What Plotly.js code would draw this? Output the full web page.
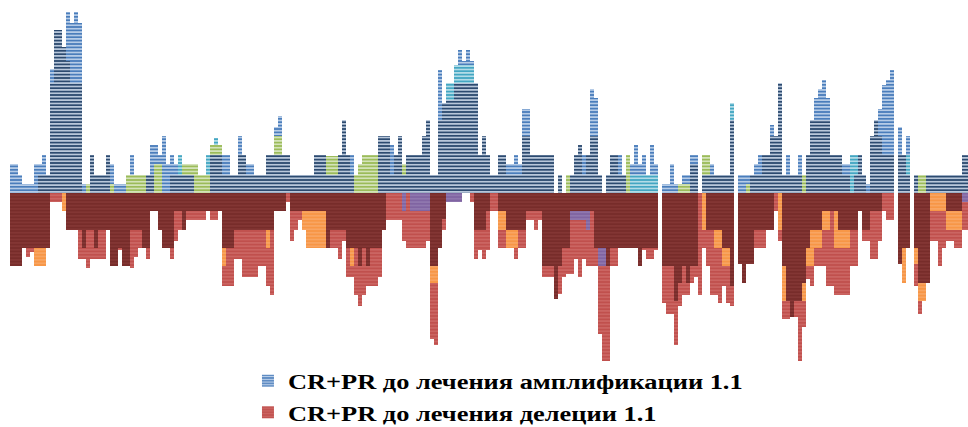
<!DOCTYPE html>
<html>
<head>
<meta charset="utf-8">
<script src="https://cdn.plot.ly/plotly-3.0.1.min.js"></script>
<style>
  html, body { margin: 0; padding: 0; background: #ffffff; }
  #chart { width: 968px; height: 427px; }
  /* wide bold legend lettering, not clipped to the measured legend box */
  #chart .legendtext { transform: scaleX(1.2); transform-box: fill-box; transform-origin: 0 50%; }
  #chart .legend .scrollbox, #chart .legend { clip-path: none !important; }
</style>
</head>
<body>
<div id="chart"></div>
<script>
// Genome-wide copy-number frequency profile, one value per genomic bin (%).
// Amplifications are drawn upward, deletions downward.

const ampNavy = [
  0,0,0,0,0,0,0,10,10,10,
  60,89,89,80,72,60,60,60,0,0,
  21,10,10,10,21,0,0,0,0,0,
  0,0,0,0,10,10,0,0,0,0,
  10,10,10,10,10,10,0,0,0,0,
  21,21,21,10,10,10,10,21,21,10,
  10,10,10,10,21,21,21,21,21,21,
  10,10,10,10,10,10,21,21,21,10,
  10,10,21,40,21,10,0,0,0,0,
  0,0,31,31,31,10,21,31,10,21,
  21,21,21,31,40,10,10,40,49,51,
  51,60,60,60,60,60,60,21,31,21,
  10,10,21,21,10,10,10,10,31,31,
  21,21,21,21,21,21,0,10,0,0,
  10,21,26,10,21,31,31,10,0,10,
  21,21,10,10,0,0,0,0,0,0,
  0,0,0,0,0,0,0,0,0,0,
  16,16,0,10,10,10,10,10,10,10,
  40,0,0,0,0,10,10,10,21,21,
  31,31,60,10,10,10,10,10,0,21,
  40,40,40,40,40,21,21,21,10,10,
  0,10,21,10,0,31,40,31,21,21,
  21,0,21,21,10,0,10,0,0,10,
  10,10,10,10,10,10,10,10,21,21
];

const ampBlue = [
  16,16,10,5,5,5,16,16,21,0,
  68,0,0,0,99,93,99,93,5,5,
  5,0,0,0,0,16,5,5,5,10,
  21,0,0,0,0,26,26,21,31,16,
  21,16,16,0,0,0,0,0,0,0,
  0,0,0,21,21,0,0,31,16,16,
  16,0,0,0,0,0,36,42,0,0,
  0,0,0,0,0,0,0,0,21,0,
  0,0,0,0,21,21,0,0,0,21,
  21,21,0,0,0,26,21,21,0,0,
  0,0,0,0,0,0,0,67,0,0,
  0,0,78,72,78,72,0,0,0,0,
  0,0,0,0,16,16,21,16,46,46,
  0,0,0,21,0,0,0,0,0,0,
  0,0,21,21,21,57,52,0,0,0,
  0,0,21,0,0,16,26,16,21,10,
  26,16,0,5,5,16,5,5,10,10,
  21,21,0,0,21,16,0,0,0,0,
  0,0,10,10,10,0,16,21,0,0,
  37,0,0,0,21,0,0,21,0,21,
  21,52,57,62,52,0,0,0,16,16,
  16,0,0,0,5,0,0,46,59,62,
  67,0,36,0,31,0,10,0,0,0,
  0,0,0,0,0,0,0,0,0,0
];

const ampGreen = [
  0,0,0,0,0,0,0,0,0,0,
  0,0,0,0,0,0,0,0,0,5,
  0,5,0,0,5,5,0,0,0,10,
  10,10,10,10,10,0,16,16,0,0,
  0,0,0,16,16,16,16,10,10,10,
  26,26,26,0,0,0,0,0,0,0,
  0,0,0,0,0,0,31,31,0,0,
  0,0,0,0,0,0,0,0,0,20,
  20,20,0,0,0,10,10,16,21,21,
  21,21,10,0,0,0,0,0,16,0,
  0,0,0,0,0,10,10,0,0,0,
  0,0,0,0,0,0,0,0,0,0,
  0,0,0,0,0,0,0,0,0,0,
  0,0,0,20,0,0,0,0,0,10,
  0,0,0,0,0,0,0,0,0,0,
  0,0,0,0,21,0,0,0,0,0,
  0,0,0,0,0,0,0,5,5,5,
  0,0,0,21,21,10,0,5,0,0,
  10,0,0,0,5,5,0,0,0,0,
  0,0,0,0,0,0,0,0,10,0,
  0,0,0,0,0,0,0,0,0,0,
  0,0,0,0,0,0,0,0,0,0,
  0,0,0,0,0,0,10,10,10,0,
  0,0,0,0,0,0,0,0,0,0
];

const ampCyan = [
  0,0,0,0,0,0,0,0,0,0,
  0,0,0,0,0,0,0,0,0,0,
  0,0,0,0,0,0,0,0,0,0,
  0,0,0,0,0,0,0,0,0,0,
  0,0,21,0,0,0,10,0,0,21,
  0,30,0,0,0,0,0,0,0,0,
  0,0,0,0,0,0,0,0,0,0,
  0,0,0,0,0,0,0,0,0,0,
  20,0,0,0,0,0,0,0,0,0,
  0,0,0,0,0,0,0,0,0,0,
  0,0,0,0,0,0,0,0,0,60,
  60,70,70,70,70,70,0,0,0,0,
  0,0,0,0,0,0,0,0,0,0,
  0,0,0,0,0,0,0,0,0,0,
  0,0,0,0,0,0,0,0,0,0,
  0,0,0,0,10,10,10,10,10,10,
  10,10,0,0,0,0,0,0,0,0,
  0,0,0,0,0,0,0,0,0,0,
  49,0,0,0,0,0,0,0,0,0,
  0,0,0,0,0,0,0,0,0,0,
  0,0,0,0,0,0,0,0,0,10,
  21,21,0,0,0,0,0,0,0,0,
  0,0,0,0,21,0,0,0,0,0,
  0,0,0,0,0,0,0,0,0,0
];

const delMaroon = [
  40,40,40,30,30,30,30,30,30,30,
  0,0,0,0,20,20,20,20,30,20,
  20,30,20,20,20,40,40,30,40,40,
  20,20,20,30,30,10,10,20,30,30,
  30,10,10,20,10,10,10,10,10,10,
  10,10,10,30,30,30,20,20,20,20,
  20,20,20,20,20,20,10,10,10,0,
  10,10,10,10,10,10,10,10,10,30,
  20,20,20,20,30,30,30,40,30,40,
  30,30,30,20,0,0,0,0,0,0,
  0,0,0,0,0,40,40,30,14,0,
  0,0,0,0,0,0,20,20,20,10,
  0,0,10,10,20,20,20,20,20,10,
  10,10,10,40,40,40,58,40,30,30,
  10,10,10,10,10,10,30,30,30,40,
  30,30,30,30,30,30,30,40,30,30,
  30,30,0,40,40,40,59,49,40,49,
  40,40,0,0,20,20,20,20,30,30,
  51,0,39,49,39,39,20,20,20,20,
  20,0,0,40,59,68,59,59,49,30,
  20,20,20,10,10,10,10,20,20,20,
  20,20,10,20,20,10,10,10,0,0,
  0,0,39,30,30,0,30,49,49,49,
  0,0,0,0,10,10,10,10,0,0
];

const delRed = [
  0,0,0,0,35,32,40,0,0,0,
  5,5,5,5,0,0,0,36,36,41,
  36,36,36,36,0,0,0,31,0,0,
  41,35,30,30,36,0,0,0,0,0,
  36,26,20,20,15,15,15,15,15,0,
  15,15,0,51,51,51,36,36,46,46,
  46,46,40,40,51,56,0,0,0,5,
  26,20,15,0,0,0,0,0,0,0,
  30,30,36,26,46,46,56,62,56,51,
  51,51,46,15,15,15,15,15,26,30,
  30,30,30,30,26,80,83,14,20,0,
  0,0,0,0,0,5,36,31,36,31,
  10,10,30,30,30,0,36,30,30,15,
  15,20,15,46,46,46,56,55,46,44,
  44,36,46,36,40,40,40,77,92,92,
  40,40,0,0,0,0,0,0,31,36,
  36,31,0,60,66,66,83,62,56,56,
  49,46,56,30,40,56,56,60,51,60,
  62,0,0,0,0,0,30,30,30,20,
  20,10,26,69,69,68,68,92,73,47,
  51,40,40,40,51,51,56,56,56,56,
  40,40,10,26,26,36,36,26,10,15,
  15,0,0,0,0,0,51,66,0,0,
  26,26,40,30,26,26,30,30,20,20
];

const delOrange = [
  0,0,0,0,0,0,40,40,40,0,
  0,0,0,10,0,0,0,0,0,0,
  0,20,0,0,0,0,0,0,0,0,
  0,0,0,0,0,0,0,0,0,0,
  0,0,0,0,0,0,0,0,0,0,
  0,0,0,40,0,0,0,0,0,0,
  0,0,0,0,30,0,0,0,0,0,
  0,0,0,20,30,30,30,30,30,0,
  0,0,0,0,0,40,0,0,0,0,
  0,0,0,0,0,0,0,0,0,0,
  0,0,0,0,0,49,49,0,0,0,
  0,0,0,0,0,0,0,0,0,0,
  0,0,20,20,30,30,30,0,0,0,
  0,0,0,0,0,0,0,0,0,0,
  0,0,0,0,0,0,0,0,0,0,
  0,0,0,0,0,0,0,0,0,0,
  0,0,0,30,0,0,0,0,0,0,
  0,0,0,20,0,0,30,30,40,40,
  40,0,0,0,0,0,0,0,0,0,
  0,0,20,59,0,0,0,59,59,40,
  40,30,30,20,20,0,30,30,30,30,
  0,0,0,0,0,0,0,0,0,0,
  0,0,0,49,0,0,39,59,59,0,
  10,10,10,10,20,20,20,20,0,0
];

const delPurple = [
  0,0,0,0,0,0,0,0,0,0,
  0,0,0,0,0,0,0,0,0,0,
  0,0,0,0,0,0,0,0,0,0,
  0,0,0,0,0,0,0,0,0,0,
  0,0,0,0,0,0,0,0,0,0,
  0,0,0,0,0,0,0,0,0,0,
  0,0,0,0,0,0,0,0,0,0,
  0,0,0,0,0,0,0,0,0,0,
  0,0,0,0,0,0,0,0,0,0,
  0,0,0,0,0,0,0,0,10,0,
  10,10,10,10,10,0,0,0,0,5,
  5,5,5,0,0,0,0,0,0,0,
  0,0,0,0,0,0,0,0,0,0,
  0,0,0,0,0,0,0,0,0,0,
  15,15,15,15,20,0,0,40,40,0,
  0,0,0,0,0,0,0,0,0,0,
  0,0,0,0,0,0,0,0,0,0,
  0,0,0,0,0,0,0,0,0,0,
  0,0,0,0,0,0,0,0,0,0,
  0,0,0,0,0,0,0,0,0,0,
  0,0,0,0,0,0,0,0,0,0,
  0,0,0,0,0,0,0,0,0,0,
  0,0,0,0,0,0,0,0,0,0,
  0,0,0,0,0,0,0,0,5,5
];

const legendAmp = 'CR+PR до лечения амплификации 1.1';
const legendDel = 'CR+PR до лечения делеции 1.1';

// Horizontal-stripe fill used for every series
function stripes(base, stripe) {
  return { shape: '-', bgcolor: base, fgcolor: stripe, size: 3.4, solidity: 0.45, fillmode: 'replace' };
}

function series(name, values, direction, base, stripe, inLegend) {
  return {
    type: 'bar',
    name: name,
    y: values.map(v => direction * v),
    marker: { color: base, pattern: stripes(base, stripe), line: { width: 0 } },
    showlegend: inLegend,
    hoverinfo: 'skip'
  };
}

// Drawing order (back to front) decides which colour shows at each level
const traces = [
  series(legendAmp, ampBlue, 1, '#4a7dbb', '#c3d5ec', true),
  series('amp-cyan', ampCyan, 1, '#43a6c2', '#bfe3ec', false),
  series('amp-green', ampGreen, 1, '#9bbb59', '#dbe8c4', false),
  series('amp-navy', ampNavy, 1, '#2c4a6f', '#c8d5e6', false),
  series(legendDel, delRed, -1, '#c0504d', '#cd6764', true),
  series('del-purple', delPurple, -1, '#8064a2', '#9179b0', false),
  series('del-orange', delOrange, -1, '#f79646', '#f9a765', false),
  series('del-maroon', delMaroon, -1, '#772c2a', '#843735', false)
];

const layout = {
  width: 968,
  height: 427,
  margin: { l: 10, r: 0, t: 10, b: 51, autoexpand: false },
  barmode: 'overlay',
  bargap: 0,
  paper_bgcolor: '#ffffff',
  plot_bgcolor: '#ffffff',
  xaxis: { visible: false, range: [-0.5, 239], fixedrange: true },
  yaxis: { visible: false, range: [-100, 100], fixedrange: true },
  showlegend: true,
  legend: {
    x: 0.2484, xanchor: 'left',
    y: 0.044, yanchor: 'top',
    bgcolor: 'rgba(0,0,0,0)',
    font: { family: 'Liberation Serif, Times New Roman, serif', size: 22, color: '#000000', weight: 'bold' },
    tracegroupgap: 0
  }
};

Plotly.newPlot('chart', traces, layout, { displayModeBar: false, staticPlot: true });
</script>
</body>
</html>
